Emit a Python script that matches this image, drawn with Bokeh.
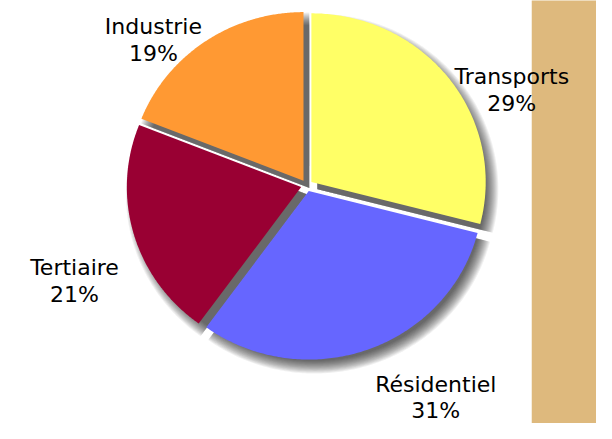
import numpy as np
from bokeh.plotting import figure
from bokeh.models import Range1d, ColumnDataSource
from bokeh.embed import file_html
from bokeh.resources import INLINE
from bokeh.core.properties import value

# ---- data ----
categories = ["Transports", "Résidentiel", "Tertiaire", "Industrie"]
shares = [29, 31, 21, 19]
colors = ["#FFFF66", "#6666FF", "#990033", "#FF9933"]

# ---- layout (reference pixel space, mapped onto the figure) ----
W, H = 596, 423
CX, CY = 314.5, 192.0
RX, RY = 179.0, 175.0
EXPLODE = 6.0
SH_DX, SH_DY = 6.0, 7.5
label_x = [525, 447, 76, 157]
label_base = [79, 399, 277, 26.5]
label_gap = [28.0, 26.0, 28.0, 28.0]
STRIP_LEFT = 545.5

p = figure(width=W, height=H, x_range=Range1d(0, 612), y_range=Range1d(439, 0),
           output_backend="svg", toolbar_location=None, min_border=0,
           x_axis_type=None, y_axis_type=None)
p.grid.visible = False
p.outline_line_color = None
p.background_fill_color = "white"
p.border_fill_color = "white"

# tan strip on the right
p.quad(left=STRIP_LEFT, right=640, top=-20, bottom=460, fill_color="#DEB97D", line_color=None)

total = float(sum(shares))
angles = []
a = 90.0
for s in shares:
    a1 = a - 360.0 * s / total
    angles.append((a, a1))
    a = a1


def slice_pts(a0, a1, cx, cy, rx, ry, n=160):
    th = np.radians(np.linspace(a0, a1, n))
    xs = np.concatenate([[cx], cx + rx * np.cos(th), [cx]])
    ys = np.concatenate([[cy], cy - ry * np.sin(th), [cy]])
    return list(xs), list(ys)


centers = []
for (a0, a1) in angles:
    mid = np.radians((a0 + a1) / 2.0)
    centers.append((CX + EXPLODE * np.cos(mid), CY - EXPLODE * np.sin(mid)))

# soft shadow
for k in range(-6, 8):
    sxs, sys_ = [], []
    for (a0, a1), (cx, cy) in zip(angles, centers):
        xs, ys = slice_pts(a0, a1, cx + SH_DX, cy + SH_DY, RX + k, RY + k)
        sxs.append(xs)
        sys_.append(ys)
    p.patches(sxs, sys_, fill_color="black", fill_alpha=0.06, line_color=None)

# slices
pxs, pys = [], []
for (a0, a1), (cx, cy) in zip(angles, centers):
    xs, ys = slice_pts(a0, a1, cx, cy, RX, RY)
    pxs.append(xs)
    pys.append(ys)
src = ColumnDataSource(dict(xs=pxs, ys=pys, color=colors, cat=categories))
p.patches("xs", "ys", fill_color="color", line_color=None, source=src)

# labels
lab = ColumnDataSource(dict(
    x=label_x,
    y1=label_base,
    y2=[b + g for b, g in zip(label_base, label_gap)],
    name=categories,
    pct=[f"{s}%" for s in shares],
))
for col, field in (("y1", "name"), ("y2", "pct")):
    p.text(x="x", y=col, text=field, source=lab, text_font=value("DejaVu Sans"),
           text_font_size="22px", text_align="center", text_baseline="alphabetic",
           text_color="black")

open("out.html", "w").write(file_html(p, INLINE))
